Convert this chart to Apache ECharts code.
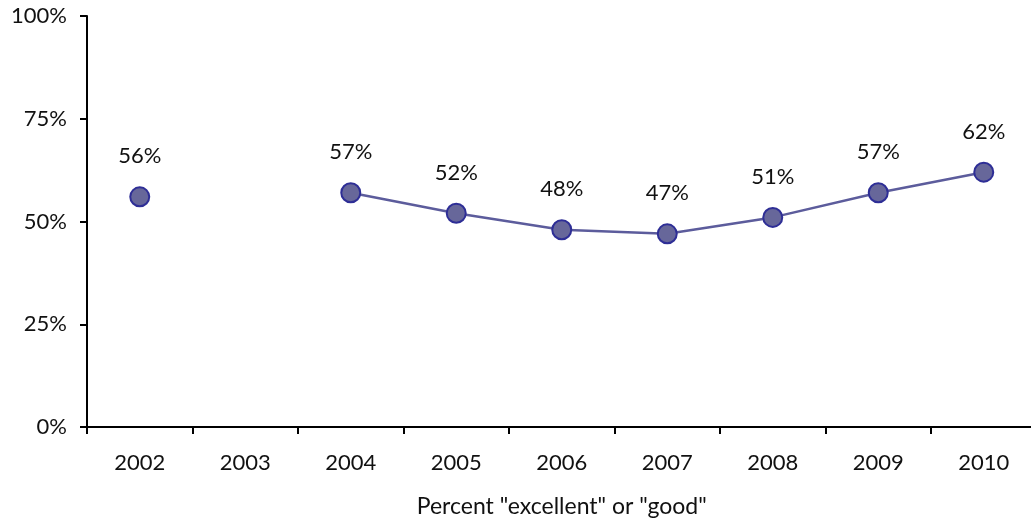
<!DOCTYPE html>
<html>
<head>
<meta charset="utf-8">
<script src="https://cdn.jsdelivr.net/npm/echarts@6/dist/echarts.min.js"></script>
<style>html,body{margin:0;padding:0;background:#fff}#c{width:1031px;height:525px}</style>
</head>
<body>
<div id="c"></div>
<script>
var years = ['2002','2003','2004','2005','2006','2007','2008','2009','2010'];
var values = [56, null, 57, 52, 48, 47, 51, 57, 62];
var yTicks = [0, 25, 50, 75, 100];
var axisTitle = 'Percent "excellent" or "good"';

var font = 'Lato, "Open Sans", sans-serif';
var chart = echarts.init(document.getElementById('c'), null, {renderer: 'canvas'});
chart.setOption({
  animation: false,
  grid: {left: 87, top: 16, width: 949.5, height: 411, containLabel: false, outerBoundsMode: 'none'},
  xAxis: {
    type: 'category',
    data: years,
    boundaryGap: true,
    axisLine: {lineStyle: {color: '#000', width: 2}},
    axisTick: {show: true, length: 7, lineStyle: {color: '#000', width: 2}, alignWithLabel: false},
    axisLabel: {color: '#111', fontFamily: font, fontSize: 22, margin: 25},
    name: axisTitle,
    nameLocation: 'middle',
    nameGap: 68,
    nameTextStyle: {color: '#111', fontFamily: font, fontSize: 23}
  },
  yAxis: {
    type: 'value',
    min: 0, max: 100, interval: 25,
    splitLine: {show: false},
    axisLine: {show: true, lineStyle: {color: '#000', width: 2}},
    axisTick: {show: true, length: 7, lineStyle: {color: '#000', width: 2}},
    axisLabel: {color: '#111', fontFamily: font, fontSize: 22, margin: 20,
      formatter: function (v) { return yTicks.indexOf(v) >= 0 ? v + '%' : ''; }}
  },
  series: [{
    type: 'line',
    data: values,
    connectNulls: false,
    symbol: 'circle',
    symbolSize: 19,
    showAllSymbol: true,
    lineStyle: {color: '#5c5c9c', width: 2.5},
    itemStyle: {color: '#67679a', borderColor: '#2e2e96', borderWidth: 2},
    label: {show: true, position: 'top', distance: 19, color: '#111', fontFamily: font, fontSize: 22,
      formatter: function (p) { return p.value + '%'; }}
  }]
});
</script>
</body>
</html>
